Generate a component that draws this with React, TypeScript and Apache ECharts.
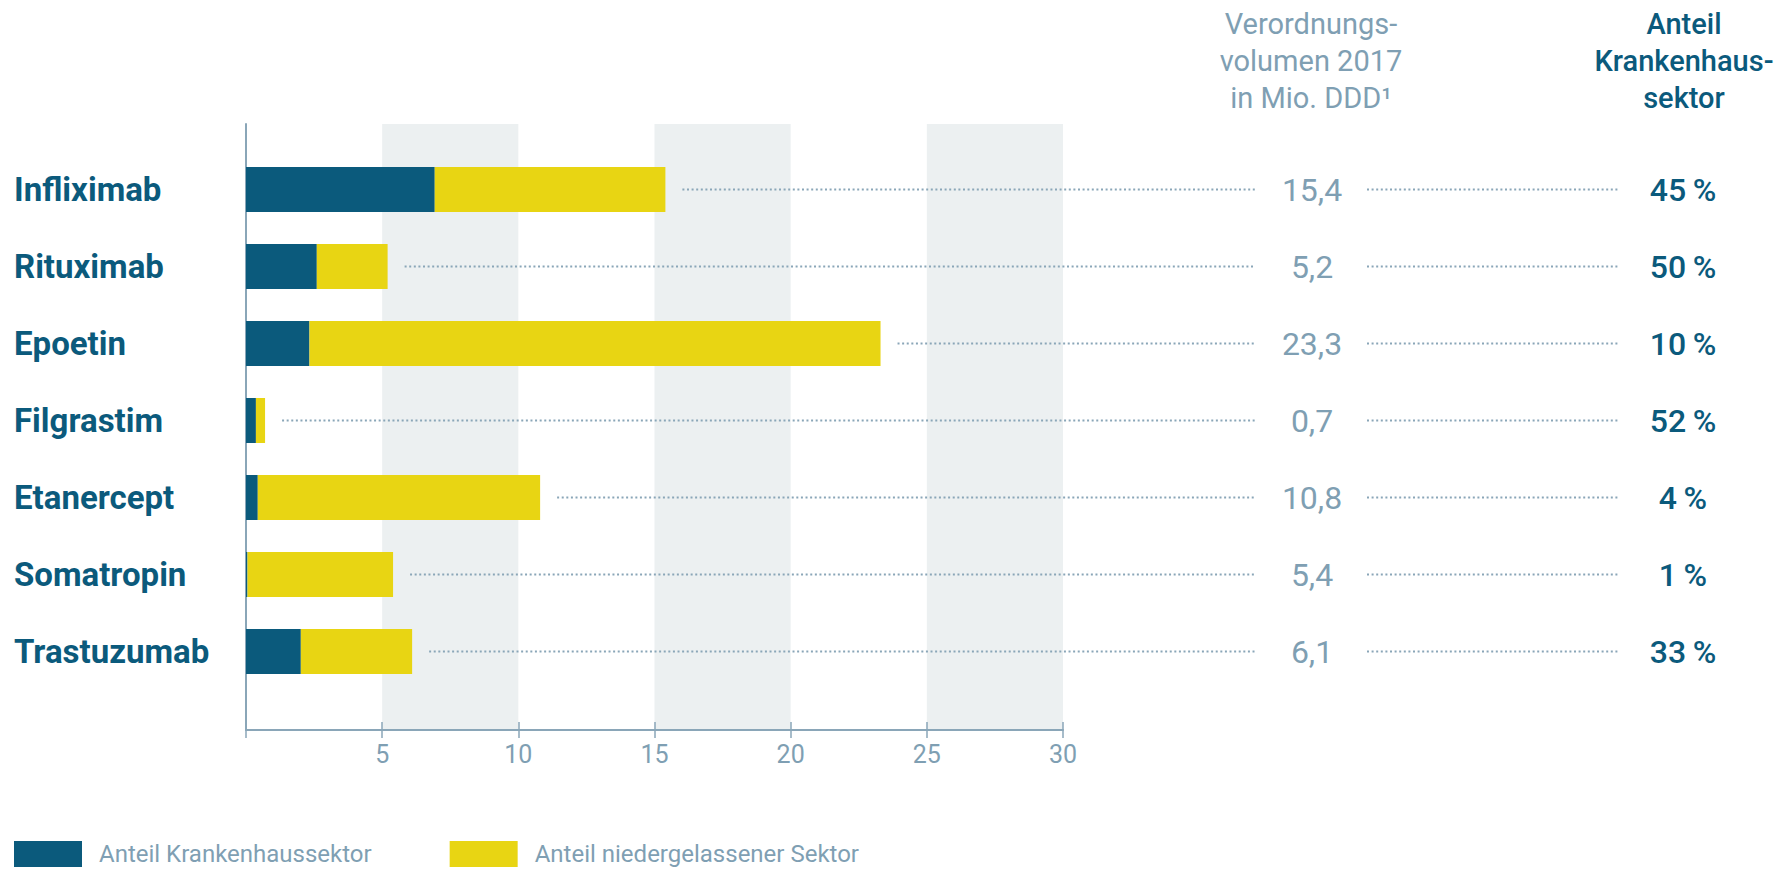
import React, { useEffect, useRef } from "react";
import * as echarts from "echarts";

const categories = ["Infliximab", "Rituximab", "Epoetin", "Filgrastim", "Etanercept", "Somatropin", "Trastuzumab"];
const volume = [15.4, 5.2, 23.3, 0.7, 10.8, 5.4, 6.1];
const hospitalShare = [45, 50, 10, 52, 4, 1, 33];
const seriesNames = ["Anteil Krankenhaussektor", "Anteil niedergelassener Sektor"];
const volumeHeader = "Verordnungs-\nvolumen 2017\nin Mio. DDD\u00B9";
const shareHeader = "Anteil\nKrankenhaus-\nsektor";

const DARK = "#0B5A7C";
const YELLOW = "#E8D513";
const GREYTXT = "#7F9FB3";
const AXIS = "#8AA6B8";
const BAND = "#ECF0F1";
const FONT = 'Roboto, "Noto Sans", sans-serif';

const hospital = volume.map((v, i) => +(v * hospitalShare[i] / 100).toFixed(3));
const outpatient = volume.map((v, i) => +(v - hospital[i]).toFixed(3));

export default function App() {
  const ref = useRef<HTMLDivElement>(null);
  useEffect(() => {
    document.body.style.margin = "0";
    const chart = echarts.init(ref.current!, undefined, { renderer: "svg" });
    const dotStyle = { stroke: AXIS, lineWidth: 2, lineDash: [2, 2.6] };
    chart.setOption({
      animation: false,
      grid: [
        { left: 246, top: 151, width: 817, height: 539 },
        { left: 246, top: 124, width: 817, height: 606 },
      ],
      xAxis: [
        { type: "value", gridIndex: 0, min: 0, max: 30, show: false },
        {
          type: "value", gridIndex: 1, min: 0, max: 30, interval: 5, position: "bottom",
          axisLine: { show: true, lineStyle: { color: AXIS, width: 2 } },
          axisTick: { show: true, length: 8, lineStyle: { color: AXIS, width: 1.5 } },
          axisLabel: {
            show: true, margin: 12, color: GREYTXT, fontSize: 25, fontFamily: FONT,
            formatter: (v: number) => (v === 0 ? "" : String(v)),
          },
          splitLine: { show: false },
          splitArea: { show: true, areaStyle: { color: ["rgba(0,0,0,0)", BAND] } },
        },
        {
          type: "value", gridIndex: 1, min: 0, max: 30, interval: 5, position: "bottom",
          axisLine: { show: false },
          axisTick: { show: true, inside: true, length: 8, lineStyle: { color: AXIS, width: 1.5 } },
          axisLabel: { show: false },
          splitLine: { show: false },
        },
      ],
      yAxis: [
        {
          type: "category", gridIndex: 0, data: categories, inverse: true,
          axisLine: { show: false }, axisTick: { show: false },
          axisLabel: {
            align: "left", margin: 232, color: DARK, fontSize: 33, fontWeight: "bold", fontFamily: FONT,
          },
        },
        {
          type: "category", gridIndex: 0, data: volume.map((v) => v.toFixed(1).replace(".", ",")),
          inverse: true, position: "right", offset: 0,
          axisLine: { show: false }, axisTick: { show: false },
          axisLabel: { align: "center", margin: 249, color: GREYTXT, fontSize: 32, fontFamily: FONT },
        },
        {
          type: "category", gridIndex: 0, data: hospitalShare.map((s) => s + "\u2009%"),
          inverse: true, position: "right", offset: 0,
          axisLine: { show: false }, axisTick: { show: false },
          axisLabel: { align: "center", margin: 620, color: DARK, fontSize: 32, fontWeight: 500, fontFamily: FONT },
        },
        {
          type: "value", gridIndex: 1, min: 0, max: 1,
          axisLine: { show: true, lineStyle: { color: AXIS, width: 2 } },
          axisTick: { show: false }, axisLabel: { show: false }, splitLine: { show: false },
        },
      ],
      legend: {
        data: seriesNames, left: 14, top: 841, padding: 0, itemWidth: 68, itemHeight: 26, itemGap: 78,
        icon: "rect",
        textStyle: { color: GREYTXT, fontSize: 24, fontFamily: FONT, padding: [0, 0, 0, 12] },
        selectedMode: false,
      },
      graphic: [
        {
          type: "text", x: 1311, y: 5, silent: true,
          style: { text: volumeHeader, fill: GREYTXT, fontSize: 29, fontFamily: FONT, lineHeight: 37, align: "center", verticalAlign: "top" },
        },
        {
          type: "text", x: 1684, y: 5, silent: true,
          style: { text: shareHeader, fill: DARK, fontSize: 29, fontWeight: 500, fontFamily: FONT, lineHeight: 37, align: "center", verticalAlign: "top" },
        },
      ],
      series: [
        {
          name: seriesNames[0], type: "bar", stack: "total", xAxisIndex: 0, yAxisIndex: 0,
          data: hospital, barWidth: 45, itemStyle: { color: DARK }, silent: true,
        },
        {
          name: seriesNames[1], type: "bar", stack: "total", xAxisIndex: 0, yAxisIndex: 0,
          data: outpatient, barWidth: 45, itemStyle: { color: YELLOW }, silent: true,
        },
        {
          name: "dots", type: "custom", xAxisIndex: 0, yAxisIndex: 0, silent: true,
          data: categories.map((_, i) => [i, volume[i]]),
          encode: { x: 1, y: 0 },
          renderItem: (params: any, api: any) => {
            const idx = api.value(0);
            const total = api.value(1);
            const p = api.coord([total, idx]);
            return {
              type: "group",
              children: [
                { type: "line", shape: { x1: p[0] + 17, y1: p[1], x2: 1255, y2: p[1] }, style: dotStyle },
                { type: "line", shape: { x1: 1367, y1: p[1], x2: 1620, y2: p[1] }, style: dotStyle },
              ],
            };
          },
        },
      ],
    });
    return () => chart.dispose();
  }, []);
  return <div ref={ref} style={{ width: 1789, height: 870 }} />;
}
